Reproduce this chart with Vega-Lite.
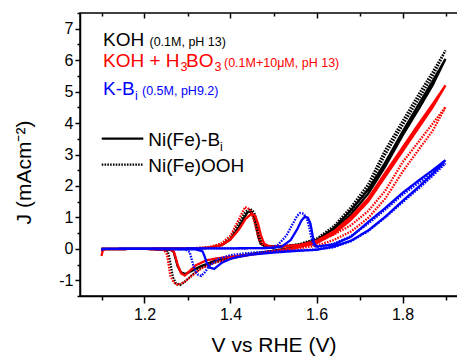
{
"$schema": "https://vega.github.io/schema/vega-lite/v6.json",
"width": 387, "height": 283,
"autosize": {"type": "none"},
"padding": {"left": 80, "top": 13, "right": 0, "bottom": 61},
"background": "white",
"config": {
 "view": {"stroke": "#000000", "strokeWidth": 1.5},
 "font": "Liberation Sans",
 "axis": {"domainColor": "#000000", "tickColor": "#000000", "labelColor": "#000000", "titleColor": "#000000", "grid": false, "labelFont": "Liberation Sans", "titleFont": "Liberation Sans", "labelFontSize": 16, "titleFontSize": 21, "titleFontWeight": "normal", "domainWidth": 1.5, "tickWidth": 1.5}
},
"datasets": {
 "cv": [
{"e":"KOH","c":"Bi","o":0,"v":1.1,"j":-0.06},{"e":"KOH","c":"Bi","o":1,"v":1.105,"j":-0.01},{"e":"KOH","c":"Bi","o":2,"v":1.2,"j":0},{"e":"KOH","c":"Bi","o":3,"v":1.3,"j":0.01},{"e":"KOH","c":"Bi","o":4,"v":1.35,"j":0.03},{"e":"KOH","c":"Bi","o":5,"v":1.38,"j":0.12},{"e":"KOH","c":"Bi","o":6,"v":1.4,"j":0.3},{"e":"KOH","c":"Bi","o":7,"v":1.42,"j":0.7},{"e":"KOH","c":"Bi","o":8,"v":1.43,"j":0.95},{"e":"KOH","c":"Bi","o":9,"v":1.44,"j":1.17},{"e":"KOH","c":"Bi","o":10,"v":1.448,"j":1.18},{"e":"KOH","c":"Bi","o":11,"v":1.455,"j":0.98},{"e":"KOH","c":"Bi","o":12,"v":1.46,"j":0.68},{"e":"KOH","c":"Bi","o":13,"v":1.465,"j":0.36},{"e":"KOH","c":"Bi","o":14,"v":1.47,"j":0.16},{"e":"KOH","c":"Bi","o":15,"v":1.48,"j":0.08},{"e":"KOH","c":"Bi","o":16,"v":1.52,"j":0.08},{"e":"KOH","c":"Bi","o":17,"v":1.56,"j":0.13},{"e":"KOH","c":"Bi","o":18,"v":1.6,"j":0.28},{"e":"KOH","c":"Bi","o":19,"v":1.64,"j":0.65},{"e":"KOH","c":"Bi","o":20,"v":1.68,"j":1.23},{"e":"KOH","c":"Bi","o":21,"v":1.72,"j":1.88},{"e":"KOH","c":"Bi","o":22,"v":1.76,"j":2.75},{"e":"KOH","c":"Bi","o":23,"v":1.8,"j":3.72},{"e":"KOH","c":"Bi","o":24,"v":1.84,"j":4.65},{"e":"KOH","c":"Bi","o":25,"v":1.87,"j":5.33},{"e":"KOH","c":"Bi","o":26,"v":1.9,"j":6.04},{"e":"KOH","c":"Bi","o":27,"v":1.87,"j":5.2},{"e":"KOH","c":"Bi","o":28,"v":1.84,"j":4.5},{"e":"KOH","c":"Bi","o":29,"v":1.8,"j":3.6},{"e":"KOH","c":"Bi","o":30,"v":1.76,"j":2.62},{"e":"KOH","c":"Bi","o":31,"v":1.72,"j":1.75},{"e":"KOH","c":"Bi","o":32,"v":1.68,"j":1.1},{"e":"KOH","c":"Bi","o":33,"v":1.64,"j":0.55},{"e":"KOH","c":"Bi","o":34,"v":1.6,"j":0.2},{"e":"KOH","c":"Bi","o":35,"v":1.55,"j":0.04},{"e":"KOH","c":"Bi","o":36,"v":1.5,"j":-0.06},{"e":"KOH","c":"Bi","o":37,"v":1.45,"j":-0.16},{"e":"KOH","c":"Bi","o":38,"v":1.4,"j":-0.27},{"e":"KOH","c":"Bi","o":39,"v":1.36,"j":-0.4},{"e":"KOH","c":"Bi","o":40,"v":1.33,"j":-0.56},{"e":"KOH","c":"Bi","o":41,"v":1.31,"j":-0.7},{"e":"KOH","c":"Bi","o":42,"v":1.295,"j":-0.8},{"e":"KOH","c":"Bi","o":43,"v":1.285,"j":-0.75},{"e":"KOH","c":"Bi","o":44,"v":1.277,"j":-0.55},{"e":"KOH","c":"Bi","o":45,"v":1.272,"j":-0.3},{"e":"KOH","c":"Bi","o":46,"v":1.268,"j":-0.1},{"e":"KOH","c":"Bi","o":47,"v":1.26,"j":-0.03},{"e":"KOH","c":"Bi","o":48,"v":1.2,"j":0},{"e":"KOH","c":"Bi","o":49,"v":1.1,"j":0},

{"e":"KOH","c":"OOH","o":0,"v":1.1,"j":-0.05},{"e":"KOH","c":"OOH","o":1,"v":1.105,"j":-0.01},{"e":"KOH","c":"OOH","o":2,"v":1.2,"j":0},{"e":"KOH","c":"OOH","o":3,"v":1.3,"j":0.01},{"e":"KOH","c":"OOH","o":4,"v":1.35,"j":0.04},{"e":"KOH","c":"OOH","o":5,"v":1.38,"j":0.15},{"e":"KOH","c":"OOH","o":6,"v":1.4,"j":0.36},{"e":"KOH","c":"OOH","o":7,"v":1.42,"j":0.82},{"e":"KOH","c":"OOH","o":8,"v":1.435,"j":1.18},{"e":"KOH","c":"OOH","o":9,"v":1.445,"j":1.28},{"e":"KOH","c":"OOH","o":10,"v":1.455,"j":1.16},{"e":"KOH","c":"OOH","o":11,"v":1.46,"j":0.92},{"e":"KOH","c":"OOH","o":12,"v":1.466,"j":0.55},{"e":"KOH","c":"OOH","o":13,"v":1.472,"j":0.28},{"e":"KOH","c":"OOH","o":14,"v":1.48,"j":0.12},{"e":"KOH","c":"OOH","o":15,"v":1.49,"j":0.08},{"e":"KOH","c":"OOH","o":16,"v":1.52,"j":0.08},{"e":"KOH","c":"OOH","o":17,"v":1.56,"j":0.15},{"e":"KOH","c":"OOH","o":18,"v":1.6,"j":0.32},{"e":"KOH","c":"OOH","o":19,"v":1.64,"j":0.72},{"e":"KOH","c":"OOH","o":20,"v":1.68,"j":1.32},{"e":"KOH","c":"OOH","o":21,"v":1.72,"j":2.05},{"e":"KOH","c":"OOH","o":22,"v":1.76,"j":3.15},{"e":"KOH","c":"OOH","o":23,"v":1.8,"j":4.06},{"e":"KOH","c":"OOH","o":24,"v":1.84,"j":4.97},{"e":"KOH","c":"OOH","o":25,"v":1.87,"j":5.62},{"e":"KOH","c":"OOH","o":26,"v":1.9,"j":6.31},{"e":"KOH","c":"OOH","o":27,"v":1.87,"j":5.48},{"e":"KOH","c":"OOH","o":28,"v":1.84,"j":4.82},{"e":"KOH","c":"OOH","o":29,"v":1.8,"j":3.92},{"e":"KOH","c":"OOH","o":30,"v":1.76,"j":3.0},{"e":"KOH","c":"OOH","o":31,"v":1.72,"j":1.92},{"e":"KOH","c":"OOH","o":32,"v":1.68,"j":1.2},{"e":"KOH","c":"OOH","o":33,"v":1.64,"j":0.62},{"e":"KOH","c":"OOH","o":34,"v":1.6,"j":0.24},{"e":"KOH","c":"OOH","o":35,"v":1.55,"j":0.05},{"e":"KOH","c":"OOH","o":36,"v":1.5,"j":-0.06},{"e":"KOH","c":"OOH","o":37,"v":1.45,"j":-0.17},{"e":"KOH","c":"OOH","o":38,"v":1.4,"j":-0.3},{"e":"KOH","c":"OOH","o":39,"v":1.36,"j":-0.45},{"e":"KOH","c":"OOH","o":40,"v":1.33,"j":-0.62},{"e":"KOH","c":"OOH","o":41,"v":1.31,"j":-0.84},{"e":"KOH","c":"OOH","o":42,"v":1.295,"j":-1.03},{"e":"KOH","c":"OOH","o":43,"v":1.283,"j":-1.15},{"e":"KOH","c":"OOH","o":44,"v":1.273,"j":-1.1},{"e":"KOH","c":"OOH","o":45,"v":1.266,"j":-0.9},{"e":"KOH","c":"OOH","o":46,"v":1.262,"j":-0.6},{"e":"KOH","c":"OOH","o":47,"v":1.258,"j":-0.3},{"e":"KOH","c":"OOH","o":48,"v":1.254,"j":-0.08},{"e":"KOH","c":"OOH","o":49,"v":1.245,"j":-0.02},{"e":"KOH","c":"OOH","o":50,"v":1.2,"j":0},{"e":"KOH","c":"OOH","o":51,"v":1.1,"j":0},

{"e":"KOH+H3BO3","c":"Bi","o":0,"v":1.1,"j":-0.23},{"e":"KOH+H3BO3","c":"Bi","o":1,"v":1.103,"j":-0.05},{"e":"KOH+H3BO3","c":"Bi","o":2,"v":1.11,"j":-0.01},{"e":"KOH+H3BO3","c":"Bi","o":3,"v":1.2,"j":0},{"e":"KOH+H3BO3","c":"Bi","o":4,"v":1.3,"j":0.01},{"e":"KOH+H3BO3","c":"Bi","o":5,"v":1.35,"j":0.03},{"e":"KOH+H3BO3","c":"Bi","o":6,"v":1.38,"j":0.12},{"e":"KOH+H3BO3","c":"Bi","o":7,"v":1.4,"j":0.3},{"e":"KOH+H3BO3","c":"Bi","o":8,"v":1.42,"j":0.62},{"e":"KOH+H3BO3","c":"Bi","o":9,"v":1.435,"j":0.95},{"e":"KOH+H3BO3","c":"Bi","o":10,"v":1.449,"j":1.12},{"e":"KOH+H3BO3","c":"Bi","o":11,"v":1.457,"j":1.06},{"e":"KOH+H3BO3","c":"Bi","o":12,"v":1.464,"j":0.8},{"e":"KOH+H3BO3","c":"Bi","o":13,"v":1.471,"j":0.42},{"e":"KOH+H3BO3","c":"Bi","o":14,"v":1.478,"j":0.17},{"e":"KOH+H3BO3","c":"Bi","o":15,"v":1.49,"j":0.07},{"e":"KOH+H3BO3","c":"Bi","o":16,"v":1.52,"j":0.07},{"e":"KOH+H3BO3","c":"Bi","o":17,"v":1.56,"j":0.12},{"e":"KOH+H3BO3","c":"Bi","o":18,"v":1.6,"j":0.25},{"e":"KOH+H3BO3","c":"Bi","o":19,"v":1.64,"j":0.55},{"e":"KOH+H3BO3","c":"Bi","o":20,"v":1.68,"j":1.02},{"e":"KOH+H3BO3","c":"Bi","o":21,"v":1.72,"j":1.6},{"e":"KOH+H3BO3","c":"Bi","o":22,"v":1.76,"j":2.42},{"e":"KOH+H3BO3","c":"Bi","o":23,"v":1.8,"j":3.22},{"e":"KOH+H3BO3","c":"Bi","o":24,"v":1.84,"j":4.02},{"e":"KOH+H3BO3","c":"Bi","o":25,"v":1.87,"j":4.6},{"e":"KOH+H3BO3","c":"Bi","o":26,"v":1.9,"j":5.2},{"e":"KOH+H3BO3","c":"Bi","o":27,"v":1.87,"j":4.5},{"e":"KOH+H3BO3","c":"Bi","o":28,"v":1.84,"j":3.9},{"e":"KOH+H3BO3","c":"Bi","o":29,"v":1.8,"j":3.1},{"e":"KOH+H3BO3","c":"Bi","o":30,"v":1.76,"j":2.3},{"e":"KOH+H3BO3","c":"Bi","o":31,"v":1.72,"j":1.5},{"e":"KOH+H3BO3","c":"Bi","o":32,"v":1.68,"j":0.92},{"e":"KOH+H3BO3","c":"Bi","o":33,"v":1.64,"j":0.47},{"e":"KOH+H3BO3","c":"Bi","o":34,"v":1.6,"j":0.18},{"e":"KOH+H3BO3","c":"Bi","o":35,"v":1.55,"j":0.03},{"e":"KOH+H3BO3","c":"Bi","o":36,"v":1.5,"j":-0.08},{"e":"KOH+H3BO3","c":"Bi","o":37,"v":1.45,"j":-0.18},{"e":"KOH+H3BO3","c":"Bi","o":38,"v":1.4,"j":-0.25},{"e":"KOH+H3BO3","c":"Bi","o":39,"v":1.37,"j":-0.3},{"e":"KOH+H3BO3","c":"Bi","o":40,"v":1.345,"j":-0.36},{"e":"KOH+H3BO3","c":"Bi","o":41,"v":1.32,"j":-0.52},{"e":"KOH+H3BO3","c":"Bi","o":42,"v":1.305,"j":-0.7},{"e":"KOH+H3BO3","c":"Bi","o":43,"v":1.294,"j":-0.85},{"e":"KOH+H3BO3","c":"Bi","o":44,"v":1.285,"j":-0.78},{"e":"KOH+H3BO3","c":"Bi","o":45,"v":1.277,"j":-0.5},{"e":"KOH+H3BO3","c":"Bi","o":46,"v":1.272,"j":-0.25},{"e":"KOH+H3BO3","c":"Bi","o":47,"v":1.268,"j":-0.08},{"e":"KOH+H3BO3","c":"Bi","o":48,"v":1.26,"j":-0.02},{"e":"KOH+H3BO3","c":"Bi","o":49,"v":1.2,"j":0},{"e":"KOH+H3BO3","c":"Bi","o":50,"v":1.1,"j":0},

{"e":"KOH+H3BO3","c":"OOH","o":0,"v":1.1,"j":-0.06},{"e":"KOH+H3BO3","c":"OOH","o":1,"v":1.105,"j":-0.01},{"e":"KOH+H3BO3","c":"OOH","o":2,"v":1.2,"j":0},{"e":"KOH+H3BO3","c":"OOH","o":3,"v":1.3,"j":0.01},{"e":"KOH+H3BO3","c":"OOH","o":4,"v":1.35,"j":0.05},{"e":"KOH+H3BO3","c":"OOH","o":5,"v":1.38,"j":0.18},{"e":"KOH+H3BO3","c":"OOH","o":6,"v":1.4,"j":0.42},{"e":"KOH+H3BO3","c":"OOH","o":7,"v":1.42,"j":0.95},{"e":"KOH+H3BO3","c":"OOH","o":8,"v":1.434,"j":1.33},{"e":"KOH+H3BO3","c":"OOH","o":9,"v":1.445,"j":1.25},{"e":"KOH+H3BO3","c":"OOH","o":10,"v":1.452,"j":1.02},{"e":"KOH+H3BO3","c":"OOH","o":11,"v":1.46,"j":0.62},{"e":"KOH+H3BO3","c":"OOH","o":12,"v":1.467,"j":0.27},{"e":"KOH+H3BO3","c":"OOH","o":13,"v":1.476,"j":0.11},{"e":"KOH+H3BO3","c":"OOH","o":14,"v":1.5,"j":0.08},{"e":"KOH+H3BO3","c":"OOH","o":15,"v":1.56,"j":0.12},{"e":"KOH+H3BO3","c":"OOH","o":16,"v":1.6,"j":0.22},{"e":"KOH+H3BO3","c":"OOH","o":17,"v":1.64,"j":0.45},{"e":"KOH+H3BO3","c":"OOH","o":18,"v":1.68,"j":0.75},{"e":"KOH+H3BO3","c":"OOH","o":19,"v":1.72,"j":1.2},{"e":"KOH+H3BO3","c":"OOH","o":20,"v":1.76,"j":1.85},{"e":"KOH+H3BO3","c":"OOH","o":21,"v":1.8,"j":2.75},{"e":"KOH+H3BO3","c":"OOH","o":22,"v":1.84,"j":3.45},{"e":"KOH+H3BO3","c":"OOH","o":23,"v":1.87,"j":3.98},{"e":"KOH+H3BO3","c":"OOH","o":24,"v":1.9,"j":4.51},{"e":"KOH+H3BO3","c":"OOH","o":25,"v":1.87,"j":3.75},{"e":"KOH+H3BO3","c":"OOH","o":26,"v":1.84,"j":3.2},{"e":"KOH+H3BO3","c":"OOH","o":27,"v":1.8,"j":2.45},{"e":"KOH+H3BO3","c":"OOH","o":28,"v":1.76,"j":1.6},{"e":"KOH+H3BO3","c":"OOH","o":29,"v":1.72,"j":0.98},{"e":"KOH+H3BO3","c":"OOH","o":30,"v":1.68,"j":0.55},{"e":"KOH+H3BO3","c":"OOH","o":31,"v":1.64,"j":0.28},{"e":"KOH+H3BO3","c":"OOH","o":32,"v":1.6,"j":0.1},{"e":"KOH+H3BO3","c":"OOH","o":33,"v":1.55,"j":0},{"e":"KOH+H3BO3","c":"OOH","o":34,"v":1.5,"j":-0.08},{"e":"KOH+H3BO3","c":"OOH","o":35,"v":1.45,"j":-0.18},{"e":"KOH+H3BO3","c":"OOH","o":36,"v":1.4,"j":-0.3},{"e":"KOH+H3BO3","c":"OOH","o":37,"v":1.36,"j":-0.45},{"e":"KOH+H3BO3","c":"OOH","o":38,"v":1.33,"j":-0.64},{"e":"KOH+H3BO3","c":"OOH","o":39,"v":1.31,"j":-0.86},{"e":"KOH+H3BO3","c":"OOH","o":40,"v":1.29,"j":-1.08},{"e":"KOH+H3BO3","c":"OOH","o":41,"v":1.277,"j":-1.15},{"e":"KOH+H3BO3","c":"OOH","o":42,"v":1.268,"j":-1.07},{"e":"KOH+H3BO3","c":"OOH","o":43,"v":1.26,"j":-0.85},{"e":"KOH+H3BO3","c":"OOH","o":44,"v":1.256,"j":-0.5},{"e":"KOH+H3BO3","c":"OOH","o":45,"v":1.252,"j":-0.18},{"e":"KOH+H3BO3","c":"OOH","o":46,"v":1.246,"j":-0.04},{"e":"KOH+H3BO3","c":"OOH","o":47,"v":1.2,"j":0},{"e":"KOH+H3BO3","c":"OOH","o":48,"v":1.1,"j":0},

{"e":"K-Bi","c":"Bi","o":0,"v":1.1,"j":-0.04},{"e":"K-Bi","c":"Bi","o":1,"v":1.105,"j":0},{"e":"K-Bi","c":"Bi","o":2,"v":1.3,"j":0.01},{"e":"K-Bi","c":"Bi","o":3,"v":1.45,"j":0.02},{"e":"K-Bi","c":"Bi","o":4,"v":1.5,"j":0.03},{"e":"K-Bi","c":"Bi","o":5,"v":1.52,"j":0.08},{"e":"K-Bi","c":"Bi","o":6,"v":1.54,"j":0.28},{"e":"K-Bi","c":"Bi","o":7,"v":1.555,"j":0.62},{"e":"K-Bi","c":"Bi","o":8,"v":1.565,"j":0.9},{"e":"K-Bi","c":"Bi","o":9,"v":1.573,"j":1.02},{"e":"K-Bi","c":"Bi","o":10,"v":1.58,"j":0.99},{"e":"K-Bi","c":"Bi","o":11,"v":1.586,"j":0.8},{"e":"K-Bi","c":"Bi","o":12,"v":1.59,"j":0.5},{"e":"K-Bi","c":"Bi","o":13,"v":1.594,"j":0.2},{"e":"K-Bi","c":"Bi","o":14,"v":1.6,"j":0.07},{"e":"K-Bi","c":"Bi","o":15,"v":1.64,"j":0.14},{"e":"K-Bi","c":"Bi","o":16,"v":1.68,"j":0.38},{"e":"K-Bi","c":"Bi","o":17,"v":1.72,"j":0.85},{"e":"K-Bi","c":"Bi","o":18,"v":1.76,"j":1.3},{"e":"K-Bi","c":"Bi","o":19,"v":1.8,"j":1.78},{"e":"K-Bi","c":"Bi","o":20,"v":1.84,"j":2.2},{"e":"K-Bi","c":"Bi","o":21,"v":1.87,"j":2.5},{"e":"K-Bi","c":"Bi","o":22,"v":1.9,"j":2.82},{"e":"K-Bi","c":"Bi","o":23,"v":1.87,"j":2.38},{"e":"K-Bi","c":"Bi","o":24,"v":1.84,"j":2.0},{"e":"K-Bi","c":"Bi","o":25,"v":1.8,"j":1.52},{"e":"K-Bi","c":"Bi","o":26,"v":1.76,"j":1.02},{"e":"K-Bi","c":"Bi","o":27,"v":1.72,"j":0.58},{"e":"K-Bi","c":"Bi","o":28,"v":1.68,"j":0.26},{"e":"K-Bi","c":"Bi","o":29,"v":1.64,"j":0.07},{"e":"K-Bi","c":"Bi","o":30,"v":1.6,"j":-0.03},{"e":"K-Bi","c":"Bi","o":31,"v":1.55,"j":-0.07},{"e":"K-Bi","c":"Bi","o":32,"v":1.5,"j":-0.12},{"e":"K-Bi","c":"Bi","o":33,"v":1.45,"j":-0.18},{"e":"K-Bi","c":"Bi","o":34,"v":1.42,"j":-0.25},{"e":"K-Bi","c":"Bi","o":35,"v":1.4,"j":-0.32},{"e":"K-Bi","c":"Bi","o":36,"v":1.38,"j":-0.44},{"e":"K-Bi","c":"Bi","o":37,"v":1.37,"j":-0.55},{"e":"K-Bi","c":"Bi","o":38,"v":1.362,"j":-0.64},{"e":"K-Bi","c":"Bi","o":39,"v":1.352,"j":-0.6},{"e":"K-Bi","c":"Bi","o":40,"v":1.345,"j":-0.45},{"e":"K-Bi","c":"Bi","o":41,"v":1.34,"j":-0.25},{"e":"K-Bi","c":"Bi","o":42,"v":1.335,"j":-0.08},{"e":"K-Bi","c":"Bi","o":43,"v":1.32,"j":-0.02},{"e":"K-Bi","c":"Bi","o":44,"v":1.2,"j":0},{"e":"K-Bi","c":"Bi","o":45,"v":1.1,"j":0},

{"e":"K-Bi","c":"OOH","o":0,"v":1.1,"j":-0.04},{"e":"K-Bi","c":"OOH","o":1,"v":1.105,"j":0},{"e":"K-Bi","c":"OOH","o":2,"v":1.3,"j":0.01},{"e":"K-Bi","c":"OOH","o":3,"v":1.45,"j":0.02},{"e":"K-Bi","c":"OOH","o":4,"v":1.49,"j":0.03},{"e":"K-Bi","c":"OOH","o":5,"v":1.51,"j":0.12},{"e":"K-Bi","c":"OOH","o":6,"v":1.53,"j":0.42},{"e":"K-Bi","c":"OOH","o":7,"v":1.545,"j":0.8},{"e":"K-Bi","c":"OOH","o":8,"v":1.555,"j":1.05},{"e":"K-Bi","c":"OOH","o":9,"v":1.562,"j":1.14},{"e":"K-Bi","c":"OOH","o":10,"v":1.57,"j":1.12},{"e":"K-Bi","c":"OOH","o":11,"v":1.577,"j":0.98},{"e":"K-Bi","c":"OOH","o":12,"v":1.583,"j":0.7},{"e":"K-Bi","c":"OOH","o":13,"v":1.588,"j":0.35},{"e":"K-Bi","c":"OOH","o":14,"v":1.593,"j":0.12},{"e":"K-Bi","c":"OOH","o":15,"v":1.6,"j":0.06},{"e":"K-Bi","c":"OOH","o":16,"v":1.64,"j":0.16},{"e":"K-Bi","c":"OOH","o":17,"v":1.68,"j":0.4},{"e":"K-Bi","c":"OOH","o":18,"v":1.72,"j":0.8},{"e":"K-Bi","c":"OOH","o":19,"v":1.76,"j":1.25},{"e":"K-Bi","c":"OOH","o":20,"v":1.8,"j":1.72},{"e":"K-Bi","c":"OOH","o":21,"v":1.84,"j":2.12},{"e":"K-Bi","c":"OOH","o":22,"v":1.87,"j":2.42},{"e":"K-Bi","c":"OOH","o":23,"v":1.9,"j":2.72},{"e":"K-Bi","c":"OOH","o":24,"v":1.87,"j":2.32},{"e":"K-Bi","c":"OOH","o":25,"v":1.84,"j":1.95},{"e":"K-Bi","c":"OOH","o":26,"v":1.8,"j":1.48},{"e":"K-Bi","c":"OOH","o":27,"v":1.76,"j":1.0},{"e":"K-Bi","c":"OOH","o":28,"v":1.72,"j":0.56},{"e":"K-Bi","c":"OOH","o":29,"v":1.68,"j":0.24},{"e":"K-Bi","c":"OOH","o":30,"v":1.64,"j":0.05},{"e":"K-Bi","c":"OOH","o":31,"v":1.6,"j":-0.02},{"e":"K-Bi","c":"OOH","o":32,"v":1.55,"j":-0.05},{"e":"K-Bi","c":"OOH","o":33,"v":1.5,"j":-0.08},{"e":"K-Bi","c":"OOH","o":34,"v":1.45,"j":-0.12},{"e":"K-Bi","c":"OOH","o":35,"v":1.4,"j":-0.2},{"e":"K-Bi","c":"OOH","o":36,"v":1.37,"j":-0.33},{"e":"K-Bi","c":"OOH","o":37,"v":1.35,"j":-0.55},{"e":"K-Bi","c":"OOH","o":38,"v":1.34,"j":-0.75},{"e":"K-Bi","c":"OOH","o":39,"v":1.332,"j":-0.86},{"e":"K-Bi","c":"OOH","o":40,"v":1.324,"j":-0.82},{"e":"K-Bi","c":"OOH","o":41,"v":1.316,"j":-0.65},{"e":"K-Bi","c":"OOH","o":42,"v":1.31,"j":-0.35},{"e":"K-Bi","c":"OOH","o":43,"v":1.305,"j":-0.1},{"e":"K-Bi","c":"OOH","o":44,"v":1.295,"j":-0.02},{"e":"K-Bi","c":"OOH","o":45,"v":1.2,"j":0},{"e":"K-Bi","c":"OOH","o":46,"v":1.1,"j":0}
 ],
 "big": [
  {"t":"KOH","e":"KOH","v":1.1035,"j":6.435},
  {"t":"KOH + H","e":"KOH+H3BO3","v":1.1035,"j":5.778},
  {"t":"BO","e":"KOH+H3BO3","v":1.2965,"j":5.778},
  {"t":"K-B","e":"K-Bi","v":1.1035,"j":4.902},
  {"t":"Ni(Fe)-B","e":"KOH","v":1.2088,"j":3.27},
  {"t":"Ni(Fe)OOH","e":"KOH","v":1.2088,"j":2.444}
 ],
 "small": [
  {"t":"(0.1M, pH 13)","e":"KOH","v":1.2116,"j":6.435},
  {"t":"3","e":"KOH+H3BO3","v":1.2837,"j":5.657},
  {"t":"3","e":"KOH+H3BO3","v":1.3625,"j":5.657},
  {"t":"(0.1M+10μM, pH 13)","e":"KOH+H3BO3","v":1.3849,"j":5.778},
  {"t":"i","e":"K-Bi","v":1.1779,"j":4.721},
  {"t":"(0.5M, pH9.2)","e":"K-Bi","v":1.1942,"j":4.902},
  {"t":"i","e":"KOH","v":1.3756,"j":3.117}
 ],
 "leg": [
  {"c":"Bi","v":1.1005,"v2":1.1972,"j":3.505},
  {"c":"OOH","v":1.1005,"v2":1.1972,"j":2.68}
 ]
},
"layer": [
 {
  "data": {"name": "cv"},
  "transform": [{"filter": "datum.e === 'KOH'"}],
  "mark": {"type": "line", "strokeWidth": 2.3},
  "encoding": {
   "x": {"field": "v", "type": "quantitative", "scale": {"domain": [1.05, 1.95], "nice": false, "zero": false},
     "axis": {"orient": "bottom", "values": [1.2, 1.4, 1.6, 1.8], "format": ".1f", "tickSize": 7, "labelPadding": 3, "title": "V vs RHE (V)", "titleBaseline": "alphabetic", "titleY": 55, "labelFlush": false}},
   "y": {"field": "j", "type": "quantitative", "scale": {"domain": [-1.5, 7.5], "nice": false, "zero": false},
     "axis": {"orient": "left", "values": [-1, 0, 1, 2, 3, 4, 5, 6, 7], "tickSize": 5, "labelPadding": 2, "labelExpr": "datum.value < 0 ? '-' + abs(datum.value) : '' + datum.value", "title": "J (mAcm⁻²)", "titleX": -56, "titleY": 159, "titleAlign": "center", "titleBaseline": "middle", "titleAngle": 270, "labelFlush": false}},
   "color": {"field": "e", "type": "nominal", "scale": {"domain": ["KOH", "KOH+H3BO3", "K-Bi"], "range": ["#000000", "#ff0000", "#0000ff"]}, "legend": null},
   "strokeDash": {"field": "c", "type": "nominal", "scale": {"domain": ["Bi", "OOH"], "range": [[1, 0], [1.6, 1.2]]}, "legend": null},
   "order": {"field": "o", "type": "quantitative"}
  }
 },
 {
  "data": {"name": "cv"},
  "transform": [{"filter": "datum.e === 'KOH+H3BO3'"}],
  "mark": {"type": "line", "strokeWidth": 2.3},
  "encoding": {
   "x": {"field": "v", "type": "quantitative", "scale": {"domain": [1.05, 1.95], "nice": false, "zero": false}, "axis": null},
   "y": {"field": "j", "type": "quantitative", "scale": {"domain": [-1.5, 7.5], "nice": false, "zero": false}, "axis": null},
   "color": {"field": "e", "type": "nominal", "legend": null},
   "strokeDash": {"field": "c", "type": "nominal", "legend": null},
   "order": {"field": "o", "type": "quantitative"}
  }
 },
 {
  "data": {"name": "cv"},
  "transform": [{"filter": "datum.e === 'K-Bi'"}],
  "mark": {"type": "line", "strokeWidth": 2.3},
  "encoding": {
   "x": {"field": "v", "type": "quantitative", "scale": {"domain": [1.05, 1.95], "nice": false, "zero": false}, "axis": null},
   "y": {"field": "j", "type": "quantitative", "scale": {"domain": [-1.5, 7.5], "nice": false, "zero": false}, "axis": null},
   "color": {"field": "e", "type": "nominal", "legend": null},
   "strokeDash": {"field": "c", "type": "nominal", "legend": null},
   "order": {"field": "o", "type": "quantitative"}
  }
 },
 {
  "data": {"name": "leg"},
  "mark": {"type": "rule", "strokeWidth": 2.2, "color": "#000000"},
  "encoding": {
   "x": {"field": "v", "type": "quantitative", "scale": {"domain": [1.05, 1.95], "nice": false, "zero": false},
     "axis": {"orient": "bottom", "values": [1.1, 1.3, 1.5, 1.7, 1.9], "tickSize": 4, "labels": false, "domain": false, "title": null}},
   "x2": {"field": "v2"},
   "y": {"field": "j", "type": "quantitative", "scale": {"domain": [-1.5, 7.5], "nice": false, "zero": false},
     "axis": {"orient": "left", "values": [-1.5, -0.5, 0.5, 1.5, 2.5, 3.5, 4.5, 5.5, 6.5, 7.5], "tickSize": 3, "labels": false, "domain": false, "title": null}},
   "strokeDash": {"field": "c", "type": "nominal", "legend": null}
  }
 },
 {
  "data": {"name": "big"},
  "mark": {"type": "text", "align": "left", "baseline": "alphabetic", "fontSize": 19, "font": "Liberation Sans"},
  "encoding": {
   "x": {"field": "v", "type": "quantitative", "scale": {"domain": [1.05, 1.95], "nice": false, "zero": false},
     "axis": {"orient": "top", "values": [1.2, 1.4, 1.6, 1.8], "tickSize": -5, "labels": false, "domain": false, "title": null}},
   "y": {"field": "j", "type": "quantitative", "scale": {"domain": [-1.5, 7.5], "nice": false, "zero": false}, "axis": null},
   "text": {"field": "t"},
   "color": {"field": "e", "type": "nominal", "legend": null}
  }
 },
 {
  "data": {"name": "small"},
  "mark": {"type": "text", "align": "left", "baseline": "alphabetic", "fontSize": 12.5, "font": "Liberation Sans"},
  "encoding": {
   "x": {"field": "v", "type": "quantitative", "scale": {"domain": [1.05, 1.95], "nice": false, "zero": false},
     "axis": {"orient": "top", "values": [1.1, 1.3, 1.5, 1.7, 1.9], "tickSize": -3, "labels": false, "domain": false, "title": null}},
   "y": {"field": "j", "type": "quantitative", "scale": {"domain": [-1.5, 7.5], "nice": false, "zero": false}, "axis": null},
   "text": {"field": "t"},
   "color": {"field": "e", "type": "nominal", "legend": null}
  }
 }
],
"resolve": {"axis": {"x": "independent", "y": "independent"}}
}
